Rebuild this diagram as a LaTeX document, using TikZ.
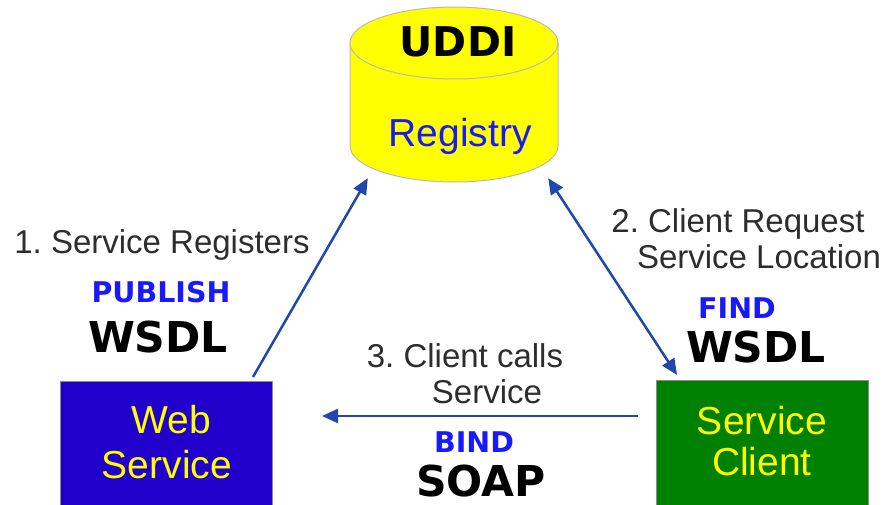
\documentclass[tikz,border=0pt]{standalone}
\usepackage{fontspec}
\setmainfont{Liberation Sans}
\newfontfamily\dejavu{DejaVu Sans}
\usetikzlibrary{arrows.meta,calc}
\definecolor{arrblue}{RGB}{32,72,170}
\definecolor{txtgray}{RGB}{45,45,45}
\definecolor{kwblue}{RGB}{25,25,250}
\definecolor{webblue}{RGB}{34,0,204}
\definecolor{clgreen}{RGB}{0,128,0}
\definecolor{cylyellow}{RGB}{255,255,0}
\definecolor{rimgray}{RGB}{185,185,185}
\definecolor{boxgray}{RGB}{140,140,140}
\tikzset{
  arr/.style={draw=arrblue, line width=2.5pt, -{Triangle[length=16pt,width=14pt]}},
  dblarr/.style={draw=arrblue, line width=2.5pt, {Triangle[length=16pt,width=14pt]}-{Triangle[length=16pt,width=14pt]}},
  lbl/.style={anchor=base, inner sep=0pt, text=txtgray, font=\fontsize{33}{37}\selectfont},
  kw/.style={anchor=base, inner sep=0pt, text=kwblue, font=\dejavu\bfseries\fontsize{28.5}{32}\selectfont},
  big/.style={anchor=base, inner sep=0pt, text=black, font=\dejavu\bfseries\fontsize{42.5}{46}\selectfont},
  boxtxt/.style={anchor=base, inner sep=0pt, text=cylyellow, font=\fontsize{39}{43}\selectfont},
  box/.style={draw=boxgray, line width=1pt, anchor=north west, minimum width=212pt, minimum height=140pt, inner sep=0pt},
}
\frenchspacing
\begin{document}
\begin{tikzpicture}[x=1pt,y=-1pt]
\useasboundingbox (0,0) rectangle (885,505);
\clip (0,0) rectangle (885,505);
% registry cylinder
\fill[cylyellow] (350,43) -- (350,146) arc[start angle=180,end angle=360,x radius=104pt,y radius=36pt] -- (558,43) -- cycle;
\draw[rimgray, line width=1pt] (350,43) -- (350,146) arc[start angle=180,end angle=360,x radius=104pt,y radius=36pt] -- (558,43);
\filldraw[fill=cylyellow, draw=rimgray, line width=1pt] (454,43) ellipse [x radius=104pt, y radius=36pt];
\node[inner sep=0pt, minimum width=208pt, minimum height=175pt] (reg) at (454,94.5) {};
\node[big, font=\dejavu\bfseries\fontsize{41}{45}\selectfont] (uddi) at (458,57) {UDDI};
\node[anchor=base, inner sep=0pt, text=kwblue, font=\fontsize{39}{43}\selectfont] (registry) at (460,147) {Registry};
% boxes
\node[box, fill=webblue] (web) at (60,381) {};
\node[box, fill=clgreen] (client) at (656,380) {};
\node[boxtxt] (webt1) at (171,433) {Web};
\node[boxtxt] (webt2) at (167,478) {Service};
\node[boxtxt] (clt1) at (762,434) {Service};
\node[boxtxt] (clt2) at (762,475) {Client};
% labels
\node[lbl] (l1) at (162,253) {1. Service Registers};
\node[kw] (publish) at (161,302) {PUBLISH};
\node[big] (wsdl1) at (158,352) {WSDL};
\node[lbl] (l2a) at (738,232) {2. Client Request};
\node[lbl] (l2b) at (759,268) {Service Location};
\node[kw] (find) at (737,318) {FIND};
\node[big] (wsdl2) at (756,362) {WSDL};
\node[lbl] (l3a) at (465,367) {3. Client calls};
\node[lbl] (l3b) at (487,403) {Service};
\node[kw] (bind) at (474,452) {BIND};
\node[big, text depth=0pt] (soap) at (481,496) {SOAP};
% connectors
\draw[arr] ([xshift=-20pt,yshift=4pt]web.north east) -- ([xshift=18pt,yshift=4pt]reg.south west);
\draw[dblarr] ([xshift=-10pt,yshift=4pt]reg.south east) -- ([xshift=21pt,yshift=5pt]client.north west);
\draw[arr] ([xshift=-18pt,yshift=-36pt]client.north west) -- ([xshift=49pt,yshift=-35pt]web.north east);
\end{tikzpicture}
\end{document}
